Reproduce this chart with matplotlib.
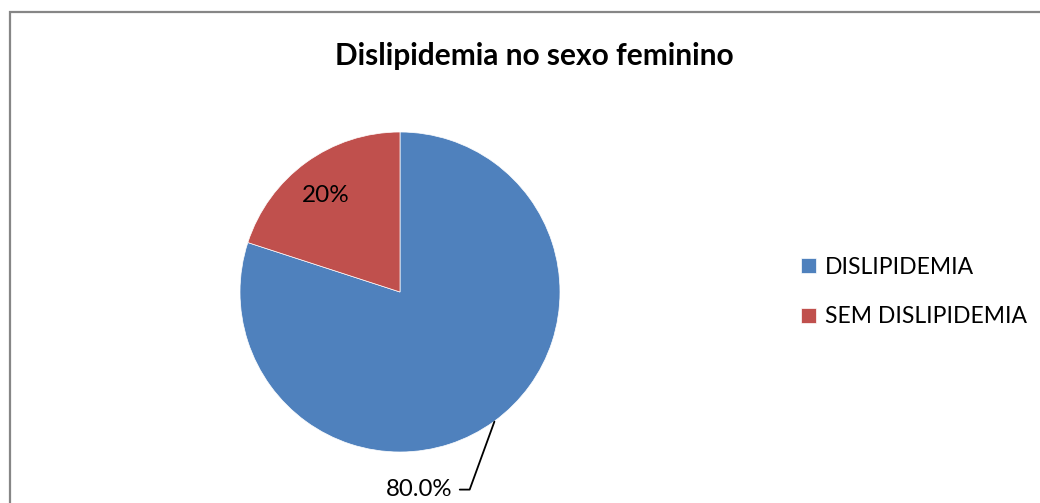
import matplotlib.pyplot as plt
from matplotlib.patches import Rectangle

plt.rcParams['font.family'] = ['Lato', 'DejaVu Sans']

categories = ["DISLIPIDEMIA", "SEM DISLIPIDEMIA"]
values = [80.0, 20.0]
colors = ["#4F81BD", "#C0504D"]
title = "Dislipidemia no sexo feminino"

W, H = 1040, 503
fig = plt.figure(figsize=(W / 100, H / 100), dpi=100)

# pie axes: 320x320 px square centred at (400, 292)
ax = fig.add_axes([240 / W, (H - 452) / H, 320 / W, 320 / H])
wedges, texts = ax.pie(values, colors=colors, startangle=90, counterclock=False,
                       radius=1, wedgeprops=dict(linewidth=0.5, edgecolor="white"))
ax.set_xlim(-1, 1)
ax.set_ylim(-1, 1)
ax.set_aspect("auto")
ax.axis("off")

# label inside red slice
ax.text(-0.465, 0.60, "20%", ha="center", va="center", fontsize=17.5)

# 80% label with leader line
ax.annotate("80.0%", xy=(0.59, -0.81), xytext=(0.33, -1.235),
            ha="right", va="center", fontsize=17.3, annotation_clip=False,
            arrowprops=dict(arrowstyle="-", color="black", lw=1.3,
                            connectionstyle="angle,angleA=0,angleB=70,rad=0",
                            shrinkA=3, shrinkB=0))

fig.text(534 / W, 1 - 56 / H, title, ha="center", va="center",
         fontsize=21.5, fontweight="bold")

fig.legend(wedges, categories, loc="center left",
           bbox_to_anchor=(790 / W, 1 - 292 / H), frameon=False,
           fontsize=16.5, handlelength=0.62, handleheight=0.62,
           handletextpad=0.42, labelspacing=1.25, borderpad=0)

fig.add_artist(Rectangle((10 / W, -0.1), 1.2, (H - 12) / H + 0.1,
                         transform=fig.transFigure, fill=False,
                         edgecolor="#868686", lw=1.6))

fig.savefig("out.png", dpi=100)
